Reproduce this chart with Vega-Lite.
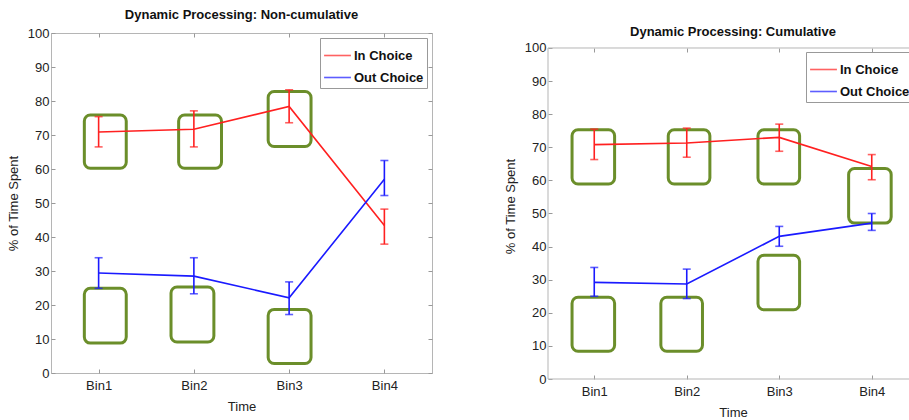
{
  "$schema": "https://vega.github.io/schema/vega-lite/v6.json",
  "padding": {"left": 6, "top": 8, "right": 0, "bottom": 0},
  "background": "white",
  "spacing": 71,
  "datasets": {
    "left": [
      {"bin": 1, "series": "In Choice", "mean": 70.9, "lo": 66.5, "hi": 75.4},
      {"bin": 2, "series": "In Choice", "mean": 71.7, "lo": 66.5, "hi": 77.1},
      {"bin": 3, "series": "In Choice", "mean": 78.4, "lo": 73.6, "hi": 83.3},
      {"bin": 4, "series": "In Choice", "mean": 43.4, "lo": 37.9, "hi": 48.2},
      {"bin": 1, "series": "Out Choice", "mean": 29.4, "lo": 24.9, "hi": 33.9},
      {"bin": 2, "series": "Out Choice", "mean": 28.5, "lo": 23.3, "hi": 33.9},
      {"bin": 3, "series": "Out Choice", "mean": 22.1, "lo": 17.2, "hi": 26.8},
      {"bin": 4, "series": "Out Choice", "mean": 57.0, "lo": 52.2, "hi": 62.5}
    ],
    "right": [
      {"bin": 1, "series": "In Choice", "mean": 70.8, "lo": 66.3, "hi": 75.5},
      {"bin": 2, "series": "In Choice", "mean": 71.3, "lo": 67.0, "hi": 75.8},
      {"bin": 3, "series": "In Choice", "mean": 73.0, "lo": 68.8, "hi": 77.0},
      {"bin": 4, "series": "In Choice", "mean": 64.2, "lo": 60.2, "hi": 67.8},
      {"bin": 1, "series": "Out Choice", "mean": 29.2, "lo": 25.0, "hi": 33.7},
      {"bin": 2, "series": "Out Choice", "mean": 28.7, "lo": 24.3, "hi": 33.2},
      {"bin": 3, "series": "Out Choice", "mean": 43.1, "lo": 40.1, "hi": 46.1},
      {"bin": 4, "series": "Out Choice", "mean": 47.1, "lo": 44.9, "hi": 50.0}
    ],
    "boxesL": [
      {"x1": 0.85, "x2": 1.29, "y1": 60.2, "y2": 75.9},
      {"x1": 1.84, "x2": 2.29, "y1": 60.2, "y2": 75.9},
      {"x1": 2.78, "x2": 3.23, "y1": 66.6, "y2": 82.8},
      {"x1": 0.85, "x2": 1.29, "y1": 8.8, "y2": 24.9},
      {"x1": 1.76, "x2": 2.21, "y1": 9.1, "y2": 25.3},
      {"x1": 2.78, "x2": 3.23, "y1": 2.8, "y2": 18.7}
    ],
    "boxesR": [
      {"x1": 0.76, "x2": 1.22, "y1": 58.9, "y2": 75.3},
      {"x1": 1.80, "x2": 2.25, "y1": 58.9, "y2": 75.3},
      {"x1": 2.77, "x2": 3.22, "y1": 58.9, "y2": 75.3},
      {"x1": 3.75, "x2": 4.21, "y1": 47.1, "y2": 63.6},
      {"x1": 0.76, "x2": 1.22, "y1": 8.4, "y2": 24.7},
      {"x1": 1.72, "x2": 2.17, "y1": 8.4, "y2": 24.7},
      {"x1": 2.77, "x2": 3.22, "y1": 20.9, "y2": 37.4}
    ],
    "frame": [{"x1": 0.5, "x2": 4.5, "y1": 0, "y2": 100}]
  },
  "hconcat": [
    {
      "width": 381,
      "height": 340,
      "title": {"text": "Dynamic Processing: Non-cumulative", "offset": 5},
      "layer": [
        {
          "data": {"name": "boxesL"},
          "mark": {"type": "rect", "fill": null, "fillOpacity": 0, "stroke": "#6b8e2a", "strokeWidth": 3, "cornerRadius": 6},
          "encoding": {
            "x": {"field": "x1", "type": "quantitative", "scale": {"domain": [0.5, 4.5], "nice": false, "zero": false},
                  "axis": {"values": [1, 2, 3, 4], "tickCount": 4, "labelExpr": "'Bin' + datum.value", "title": "Time"}},
            "x2": {"field": "x2"},
            "y": {"field": "y1", "type": "quantitative", "scale": {"domain": [0, 100], "nice": false},
                  "axis": {"values": [0, 10, 20, 30, 40, 50, 60, 70, 80, 90, 100], "tickCount": 11, "title": "% of Time Spent"}},
            "y2": {"field": "y2"}
          }
        },
        {
          "data": {"name": "left"},
          "mark": {"type": "line", "strokeWidth": 1.6},
          "encoding": {
            "x": {"field": "bin", "type": "quantitative",
                  "axis": {"orient": "top", "values": [1, 2, 3, 4], "tickCount": 4, "labels": false, "title": null}},
            "y": {"field": "mean", "type": "quantitative",
                  "axis": {"orient": "right", "values": [0, 10, 20, 30, 40, 50, 60, 70, 80, 90, 100], "tickCount": 11, "labels": false, "title": null}},
            "color": {"field": "series", "type": "nominal"}
          }
        },
        {
          "data": {"name": "left"},
          "mark": {"type": "rule", "strokeWidth": 1.6},
          "encoding": {
            "x": {"field": "bin", "type": "quantitative", "axis": null},
            "y": {"field": "lo", "type": "quantitative", "axis": null},
            "y2": {"field": "hi"},
            "color": {"field": "series", "type": "nominal"}
          }
        },
        {
          "data": {"name": "left"},
          "mark": {"type": "tick", "orient": "horizontal", "size": 8, "thickness": 1.6},
          "encoding": {
            "x": {"field": "bin", "type": "quantitative", "axis": null},
            "y": {"field": "lo", "type": "quantitative", "axis": null},
            "color": {"field": "series", "type": "nominal"}
          }
        },
        {
          "data": {"name": "left"},
          "mark": {"type": "tick", "orient": "horizontal", "size": 8, "thickness": 1.6},
          "encoding": {
            "x": {"field": "bin", "type": "quantitative", "axis": null},
            "y": {"field": "hi", "type": "quantitative", "axis": null},
            "color": {"field": "series", "type": "nominal"}
          }
        }
      ],
      "resolve": {"axis": {"x": "independent", "y": "independent"}}
    },
    {
      "width": 370,
      "height": 346,
      "view": {"stroke": null},
      "title": {"text": "Dynamic Processing: Cumulative", "offset": 5, "dy": 11},
      "layer": [
        {
          "data": {"name": "frame"},
          "mark": {"type": "rect", "fill": null, "fillOpacity": 0, "stroke": "#b5b5b5", "strokeWidth": 1},
          "encoding": {
            "x": {"field": "x1", "type": "quantitative", "scale": {"domain": [0.5, 4.5], "nice": false, "zero": false},
                  "axis": {"values": [1, 2, 3, 4], "tickCount": 4, "labelExpr": "'Bin' + datum.value", "title": "Time"}},
            "x2": {"field": "x2"},
            "y": {"field": "y1", "type": "quantitative", "scale": {"domain": [0, 104.53], "nice": false},
                  "axis": {"values": [0, 10, 20, 30, 40, 50, 60, 70, 80, 90, 100], "tickCount": 11, "title": "% of Time Spent"}},
            "y2": {"field": "y2"}
          }
        },
        {
          "data": {"name": "boxesR"},
          "mark": {"type": "rect", "fill": null, "fillOpacity": 0, "stroke": "#6b8e2a", "strokeWidth": 3, "cornerRadius": 6},
          "encoding": {
            "x": {"field": "x1", "type": "quantitative", "axis": {"orient": "top", "offset": -15, "values": [1, 2, 3, 4], "tickCount": 4, "labels": false, "title": null}},
            "x2": {"field": "x2"},
            "y": {"field": "y1", "type": "quantitative", "axis": null},
            "y2": {"field": "y2"}
          }
        },
        {
          "data": {"name": "right"},
          "mark": {"type": "line", "strokeWidth": 1.6},
          "encoding": {
            "x": {"field": "bin", "type": "quantitative", "axis": null},
            "y": {"field": "mean", "type": "quantitative", "axis": null},
            "color": {"field": "series", "type": "nominal", "legend": {"orient": "none", "legendX": 258, "legendY": 19}}
          }
        },
        {
          "data": {"name": "right"},
          "mark": {"type": "rule", "strokeWidth": 1.6},
          "encoding": {
            "x": {"field": "bin", "type": "quantitative", "axis": null},
            "y": {"field": "lo", "type": "quantitative", "axis": null},
            "y2": {"field": "hi"},
            "color": {"field": "series", "type": "nominal"}
          }
        },
        {
          "data": {"name": "right"},
          "mark": {"type": "tick", "orient": "horizontal", "size": 8, "thickness": 1.6},
          "encoding": {
            "x": {"field": "bin", "type": "quantitative", "axis": null},
            "y": {"field": "lo", "type": "quantitative", "axis": null},
            "color": {"field": "series", "type": "nominal"}
          }
        },
        {
          "data": {"name": "right"},
          "mark": {"type": "tick", "orient": "horizontal", "size": 8, "thickness": 1.6},
          "encoding": {
            "x": {"field": "bin", "type": "quantitative", "axis": null},
            "y": {"field": "hi", "type": "quantitative", "axis": null},
            "color": {"field": "series", "type": "nominal"}
          }
        }
      ],
      "resolve": {"axis": {"x": "independent", "y": "independent"}}
    }
  ],
  "resolve": {"scale": {"color": "independent", "x": "independent", "y": "independent"}, "legend": {"color": "independent"}},
  "config": {
    "font": "Liberation Sans",
    "view": {"stroke": "#b5b5b5", "strokeWidth": 1},
    "title": {"fontSize": 13, "fontWeight": "bold", "color": "#111", "anchor": "middle", "offset": 10},
    "range": {"category": ["#ff2020", "#1a1aff"]},
    "axis": {
      "grid": false,
      "domain": false,
      "tickColor": "#999",
      "tickSize": -4,
      "labelOverlap": false,
      "labelFontSize": 13,
      "labelColor": "#222",
      "labelPadding": 6,
      "titleFontSize": 13,
      "titleFontWeight": "normal",
      "titleColor": "#222"
    },
    "axisX": {"labelPadding": 10, "titlePadding": 8},
    "axisY": {"titlePadding": 7},
    "legend": {
      "orient": "top-right",
      "title": null,
      "offset": 5,
      "padding": 3,
      "strokeColor": "#999",
      "fillColor": "white",
      "symbolType": "stroke",
      "symbolSize": 720,
      "symbolStrokeWidth": 1.6,
      "labelFontSize": 13,
      "labelFontWeight": "bold",
      "labelColor": "#111",
      "labelOffset": 2,
      "rowPadding": 0
    }
  }
}
